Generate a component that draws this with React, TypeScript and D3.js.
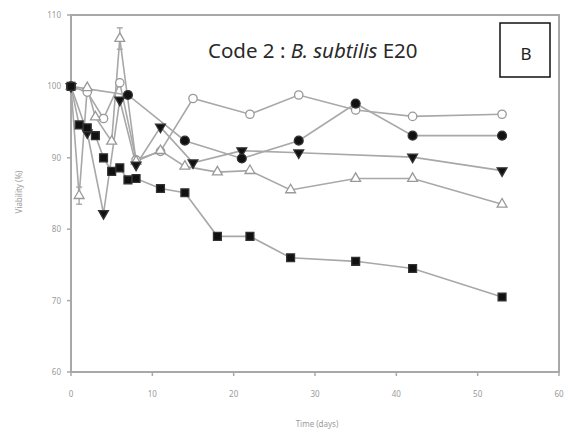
import React from 'react'
import * as d3 from 'd3'

// days + viability (%)
const squareDays = [0, 1, 2, 3, 4, 5, 6, 7, 8, 11, 14, 18, 22, 27, 35, 42, 53]
const squareVals = [100, 94.6, 94.2, 93.1, 90, 88.1, 88.6, 86.9, 87.1, 85.7, 85.1, 79, 79, 76, 75.5, 74.5, 70.5]

const dotDays = [0, 7, 14, 21, 28, 35, 42, 53]
const dotVals = [100, 98.8, 92.4, 89.9, 92.4, 97.6, 93.1, 93.1]

const ringDays = [0, 2, 4, 6, 8, 11, 15, 22, 28, 35, 42, 53]
const ringVals = [100, 99.2, 95.5, 100.5, 89.7, 90.9, 98.3, 96.1, 98.8, 96.7, 95.8, 96.1]

const downDays = [0, 2, 4, 6, 8, 11, 15, 21, 28, 42, 53]
const downVals = [100, 93.5, 82.2, 98.1, 89, 94.3, 89.3, 91, 90.7, 90.1, 88.2]

const openTriDays = [0, 1, 2, 3, 5, 6, 8, 11, 14, 18, 22, 27, 35, 42, 53]
const openTriVals = [100, 84.7, 99.8, 95.7, 92.3, 106.7, 89.5, 91, 88.8, 88, 88.2, 85.5, 87.1, 87.1, 83.5]
const openTriErr = [0, 1.2, 0, 0, 0, 1.5, 0, 0, 0, 0, 0, 0, 0, 0, 0]

const xTicks = [0, 10, 20, 30, 40, 50, 60]
const yTicks = [60, 70, 80, 90, 100, 110]

const W = 574, H = 432
const grey = '#a8a8a8'
const txt = '#9a9a9a'

const x = d3.scaleLinear().domain([0, 60]).range([71, 559])
const y = d3.scaleLinear().domain([60, 110]).range([372, 15])

const line = d3.line<[number, number]>().x(d => x(d[0])).y(d => y(d[1]))

const series = [
  { days: ringDays, vals: ringVals, shape: d3.symbolCircle, filled: false, rot: 0, size: 55 },
  { days: openTriDays, vals: openTriVals, shape: d3.symbolTriangle, filled: false, rot: 0, size: 42 },
  { days: downDays, vals: downVals, shape: d3.symbolTriangle, filled: true, rot: 180, size: 42 },
  { days: dotDays, vals: dotVals, shape: d3.symbolCircle, filled: true, rot: 0, size: 62 },
  { days: squareDays, vals: squareVals, shape: d3.symbolSquare, filled: true, rot: 0, size: 62 },
]

export default function App() {
  return (
    <svg width={W} height={H} style={{ position: 'absolute', left: 0, top: 0, background: '#fff' }}
      fontFamily="'Noto Sans', sans-serif">
      <rect x={0} y={0} width={W} height={H} fill="#fff" />
      {/* frame */}
      <rect x={x(0)} y={y(110)} width={x(60) - x(0)} height={y(60) - y(110)} fill="none" stroke={grey} strokeWidth={2} />
      {yTicks.map(t => (
        <g key={'y' + t}>
          <line x1={x(0) - 4} x2={x(0)} y1={y(t)} y2={y(t)} stroke={grey} strokeWidth={1.5} />
          <text x={x(0) - 10} y={y(t) + 3} fontSize={8} fill={txt} textAnchor="end">{t}</text>
        </g>
      ))}
      {xTicks.map(t => (
        <g key={'x' + t}>
          <line x1={x(t)} x2={x(t)} y1={y(60)} y2={y(60) + 4} stroke={grey} strokeWidth={1.5} />
          <text x={x(t)} y={y(60) + 25} fontSize={8} fill={txt} textAnchor="middle">{t}</text>
        </g>
      ))}
      <text x={317} y={427} fontSize={8} fill={txt} textAnchor="middle">Time (days)</text>
      <text transform="translate(22,192) rotate(-90)" fontSize={8} fill={txt} textAnchor="middle">Viability (%)</text>

      {series.map((s, i) => (
        <path key={'l' + i} d={line(s.days.map((d, j) => [d, s.vals[j]]) as [number, number][]) || ''}
          fill="none" stroke={grey} strokeWidth={1.6} />
      ))}
      {openTriDays.map((d, j) => openTriErr[j] > 0 ? (
        <g key={'e' + j} stroke={grey} strokeWidth={1.4}>
          <line x1={x(d)} x2={x(d)} y1={y(openTriVals[j] - openTriErr[j])} y2={y(openTriVals[j] + openTriErr[j])} />
          <line x1={x(d) - 3} x2={x(d) + 3} y1={y(openTriVals[j] + openTriErr[j])} y2={y(openTriVals[j] + openTriErr[j])} />
          <line x1={x(d) - 3} x2={x(d) + 3} y1={y(openTriVals[j] - openTriErr[j])} y2={y(openTriVals[j] - openTriErr[j])} />
        </g>
      ) : null)}
      {series.map((s, i) => (
        <g key={'m' + i}>
          {s.days.map((d, j) => (
            <path key={j} d={d3.symbol().type(s.shape).size(s.size)() || ''}
              transform={`translate(${x(d)},${y(s.vals[j])}) rotate(${s.rot})`}
              fill={s.filled ? '#111' : '#fff'} stroke={s.filled ? '#333' : '#999'} strokeWidth={1.3} />
          ))}
        </g>
      ))}

      <text x={208} y={58} fontSize={20.5} fill="#2a2a2a">
        Code 2 : <tspan fontStyle="italic">B. subtilis</tspan> E20
      </text>
      <rect x={500} y={23} width={50} height={54} fill="#fff" stroke="#111" strokeWidth={1.5} />
      <text x={526} y={60} fontSize={17} fill="#222" textAnchor="middle">B</text>
    </svg>
  )
}
